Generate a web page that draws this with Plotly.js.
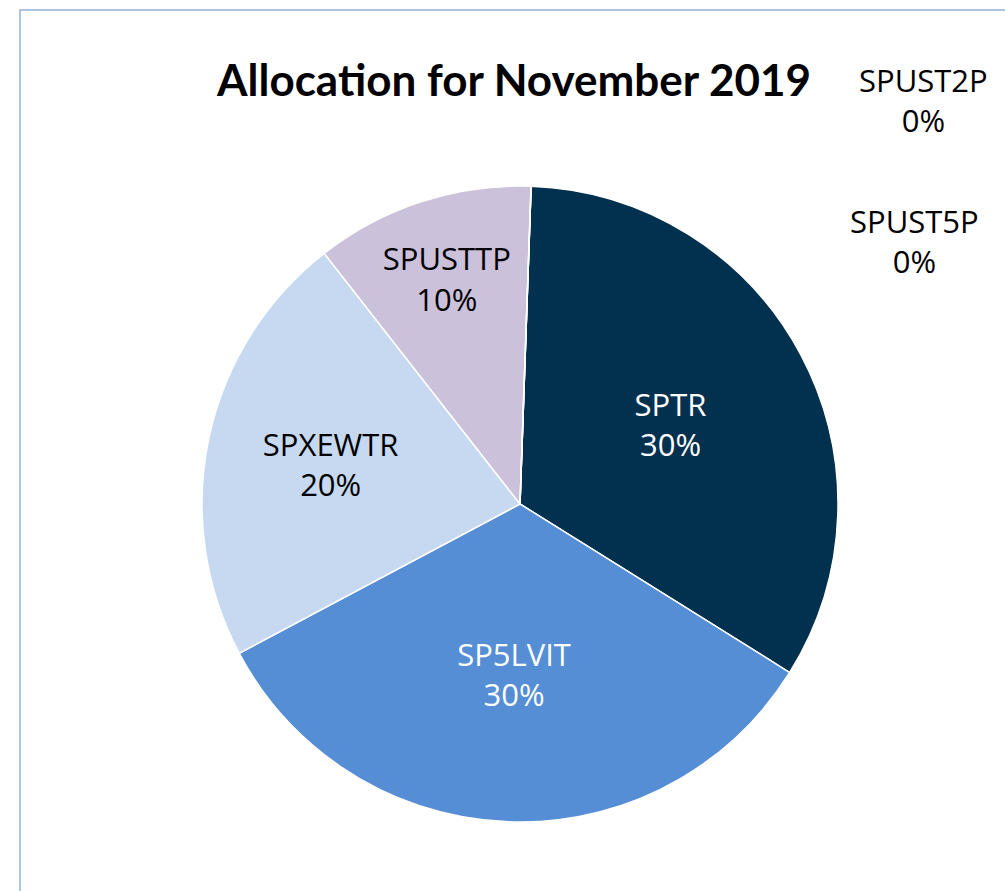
<!DOCTYPE html>
<html>
<head>
<meta charset="utf-8">
<script src="https://cdn.plot.ly/plotly-3.0.1.min.js"></script>
<style>
  html, body { margin: 0; padding: 0; background: #ffffff; }
  #chart { width: 1005px; height: 891px; }
</style>
</head>
<body>
<div id="chart"></div>
<script>
// ---- data ----
var labels = ["SPTR", "SP5LVIT", "SPXEWTR", "SPUSTTP", "SPUST2P", "SPUST5P"];
var values = [30, 30, 20, 10, 0, 0];
var sliceColors = ["#02304F", "#558ED5", "#C6D9F1", "#CCC1DA", "#4F81BD", "#8064A2"];
var textColors = ["#ffffff", "#ffffff", "#000000", "#000000", "#000000", "#000000"];
var chartTitle = "Allocation for November 2019";

// positions for the labels of zero-valued slices (paper coords)
var zeroLabelPos = [[1.135, 1.135], [1.121, 0.913]];

var labelFont = "Open Sans, sans-serif";
var labelSize = 31;

var trace = {
  type: "pie",
  labels: labels,
  values: values,
  sort: false,
  direction: "clockwise",
  rotation: 2,
  marker: { colors: sliceColors, line: { color: "#ffffff", width: 1.5 } },
  texttemplate: "%{label}<br>%{value}%",
  textposition: "inside",
  insidetextorientation: "horizontal",
  textfont: { family: labelFont, size: labelSize, color: textColors },
  hoverinfo: "label+value",
  showlegend: false
};

var annotations = [];
var zi = 0;
for (var i = 0; i < values.length; i++) {
  if (values[i] === 0) {
    var p = zeroLabelPos[zi++];
    annotations.push({
      xref: "paper", yref: "paper", x: p[0], y: p[1],
      xanchor: "center", yanchor: "middle", showarrow: false,
      text: labels[i] + "<br>" + values[i] + "%",
      font: { family: labelFont, size: labelSize, color: textColors[i] }
    });
  }
}

var layout = {
  width: 1005, height: 891,
  paper_bgcolor: "#ffffff", plot_bgcolor: "#ffffff",
  margin: { l: 202, r: 167, t: 186, b: 69, pad: 0 },
  title: {
    text: "<b>" + chartTitle + "</b>",
    font: { family: "Lato, sans-serif", size: 44, color: "#000000" },
    xref: "paper", x: 0.4906, xanchor: "center",
    yref: "container", y: 0.910, yanchor: "middle"
  },
  annotations: annotations,
  shapes: [{
    type: "rect", xref: "paper", yref: "paper",
    x0: -0.2862, x1: 1.275, y0: -0.13, y1: 1.2767,
    line: { color: "#95B3E0", width: 1.5 }, fillcolor: "rgba(0,0,0,0)", layer: "below"
  }]
};

Plotly.newPlot("chart", [trace], layout, { displayModeBar: false, staticPlot: true });
</script>
</body>
</html>
